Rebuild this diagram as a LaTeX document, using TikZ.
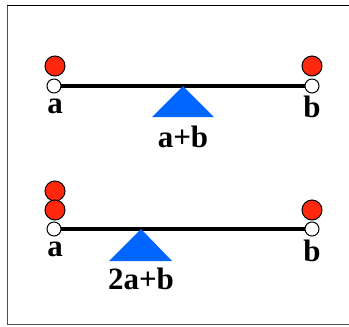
\documentclass[tikz,border=0pt]{standalone}
\usepackage{fontspec}
\setmainfont{Liberation Serif}
\definecolor{ballred}{RGB}{255,40,12}
\definecolor{fulblue}{RGB}{0,102,255}
\definecolor{framegray}{RGB}{80,80,80}
\begin{document}
\begin{tikzpicture}[x=1pt,y=-1pt,
  beam/.style={line width=4pt},
  hole/.style={circle,draw=black,fill=white,line width=1pt,minimum size=14pt,inner sep=0pt},
  ball/.style={circle,draw=black,fill=ballred,line width=1pt,minimum size=20pt,inner sep=0pt},
  fulcrum/.style={fill=fulblue},
  lbl/.style={font=\bfseries\fontsize{31}{31}\selectfont,inner sep=0pt}]
\useasboundingbox (0,0) rectangle (349,327);
\draw[framegray,line width=1pt] (7,5) -- (7,324);
\draw[black,line width=1pt] (7,5) -- (349,5);
\draw[framegray,line width=1pt] (7,324) -- (349,324);
% top lever
\coordinate (tl) at (54,86);
\coordinate (tr) at (312,86);
\draw[beam] (tl) -- (tr);
\node[hole] (tha) at (tl) {};
\node[hole] (thb) at (tr) {};
\node[ball] (tba) at (55,66) {};
\node[ball] (tbb) at (312,66) {};
\fill[fulblue] (183,86) coordinate (tapex) -- (152,117) -- (214,117) -- cycle;
\node[lbl] (ta) at (55,106) {a};
\node[lbl] (tb) at (312,107) {b};
\node[lbl] (tab) at (183,137) {a+b};
% bottom lever
\coordinate (bl) at (54,229);
\coordinate (br) at (312,229);
\draw[beam] (bl) -- (br);
\node[hole] (bha) at (bl) {};
\node[hole] (bhb) at (br) {};
\node[ball] (bba1) at (55,191) {};
\node[ball] (bba2) at (55,210) {};
\node[ball] (bbb) at (312,210) {};
\fill[fulblue] (141,229) coordinate (bapex) -- (109,261) -- (172,261) -- cycle;
\node[lbl] (ba) at (55,249) {a};
\node[lbl] (bb) at (312,251) {b};
\node[lbl] (bab) at (141,279) {2a+b};
\end{tikzpicture}
\end{document}
